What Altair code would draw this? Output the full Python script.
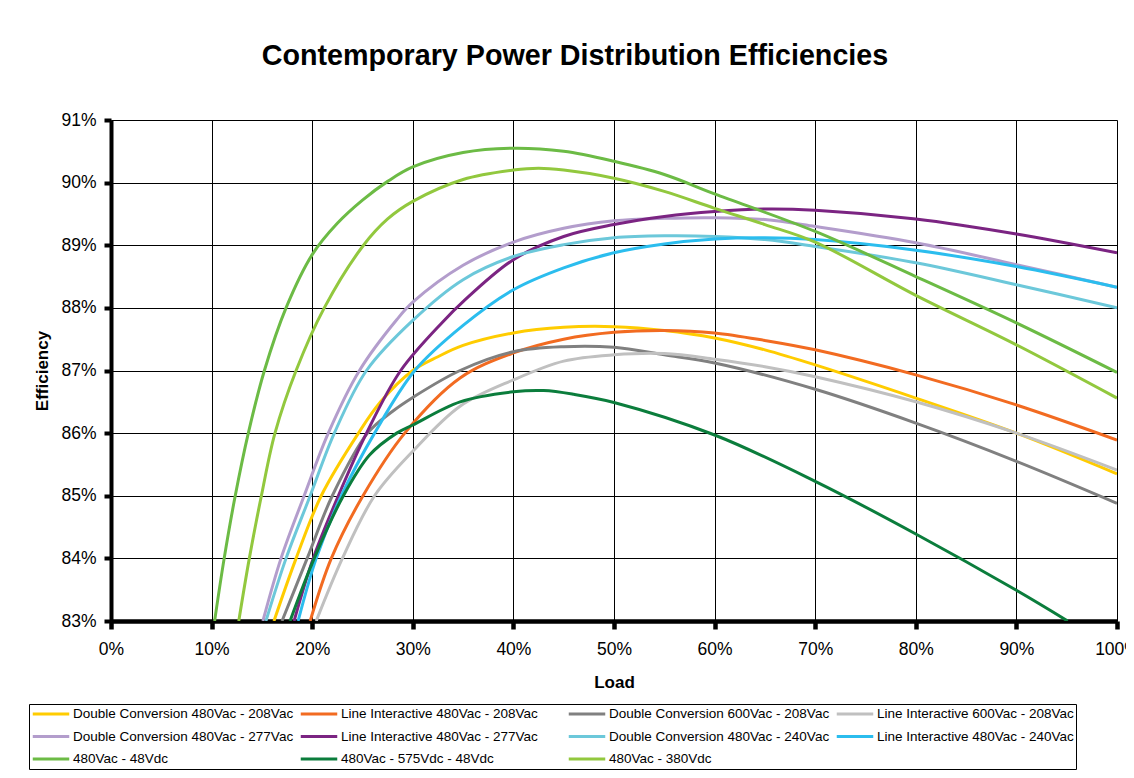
import altair as alt
import pandas as pd

# ---- series (legend order, row by row) ----
series_names = [
    "Double Conversion 480Vac - 208Vac",
    "Line Interactive 480Vac - 208Vac",
    "Double Conversion 600Vac - 208Vac",
    "Line Interactive 600Vac - 208Vac",
    "Double Conversion 480Vac - 277Vac",
    "Line Interactive 480Vac - 277Vac",
    "Double Conversion 480Vac - 240Vac",
    "Line Interactive 480Vac - 240Vac",
    "480Vac - 48Vdc",
    "480Vac - 575Vdc - 48Vdc",
    "480Vac - 380Vdc",
]
series_colors = [
    "#FFCC00", "#F26B21", "#808080", "#C0C0C0",
    "#B39DCC", "#7B2482", "#6CC8DA", "#2BBDEE",
    "#6CBB45", "#0B7D3C", "#92C83E",
]

# ---- values: load (%) and efficiency (%) ----
dc480_208_load = [16.2, 18.4, 20.9, 24.6, 26.8, 30, 32.5, 35, 40, 45, 50, 55, 60, 65, 70, 80, 90, 100]
dc480_208_eff = [83.0, 84.0, 85.0, 86.0, 86.5, 87.0, 87.22, 87.4, 87.6, 87.69, 87.7, 87.64, 87.52, 87.33, 87.09, 86.56, 86.0, 85.35]

li480_208_load = [19.8, 21.9, 25.05, 29.2, 34.7, 40, 45, 50, 55, 60, 65, 70, 80, 90, 100]
li480_208_eff = [83.0, 84.0, 85.0, 86.0, 86.88, 87.28, 87.5, 87.61, 87.64, 87.6, 87.48, 87.33, 86.93, 86.45, 85.89]

dc600_208_load = [17.0, 19.5, 22.0, 25.5, 28, 30, 34.7, 40, 45, 50, 55, 60, 70, 80, 90, 100]
dc600_208_eff = [83.0, 84.0, 85.0, 86.0, 86.35, 86.57, 87.0, 87.3, 87.38, 87.37, 87.25, 87.12, 86.7, 86.16, 85.55, 84.88]

li600_208_load = [20.4, 23.0, 26.2, 30, 34.7, 40, 45, 50, 55, 60, 65, 70, 80, 90, 100]
li600_208_eff = [83.0, 84.0, 85.0, 85.71, 86.43, 86.85, 87.15, 87.25, 87.27, 87.18, 87.06, 86.9, 86.5, 86.0, 85.41]

dc480_277_load = [15.1, 16.9, 19.2, 21.6, 24.7, 28.4, 30, 35, 40, 45, 50, 55, 60, 65, 70, 80, 90, 100]
dc480_277_eff = [83.0, 84.0, 85.0, 86.0, 87.0, 87.81, 88.09, 88.68, 89.05, 89.27, 89.39, 89.43, 89.44, 89.41, 89.3, 89.04, 88.69, 88.33]

li480_277_load = [18.2, 20.1, 22.6, 25.4, 28.8, 33, 35, 40, 45, 50, 55, 60, 65, 70, 80, 90, 100]
li480_277_eff = [83.0, 84.0, 85.0, 86.0, 87.0, 87.78, 88.1, 88.77, 89.14, 89.33, 89.46, 89.54, 89.58, 89.56, 89.42, 89.18, 88.88]

dc480_240_load = [15.4, 17.4, 19.8, 22.2, 25.4, 30, 35, 40, 45, 50, 55, 60, 65, 70, 80, 90, 100]
dc480_240_eff = [83.0, 84.0, 85.0, 86.0, 87.0, 87.8, 88.45, 88.82, 89.01, 89.12, 89.15, 89.14, 89.09, 88.98, 88.72, 88.37, 88.0]

li480_240_load = [18.6, 20.4, 22.9, 26.2, 30.2, 35, 40, 45, 50, 55, 60, 65, 70, 80, 90, 100]
li480_240_eff = [83.0, 84.0, 85.0, 86.0, 87.0, 87.72, 88.29, 88.64, 88.88, 89.02, 89.1, 89.12, 89.09, 88.92, 88.66, 88.33]

v48_load = [10.3, 11.25, 12.35, 13.65, 15.25, 17.4, 20, 22.5, 25, 27.5, 30, 35, 40, 45, 50, 55, 60, 70, 80, 90, 100]
v48_eff = [83.0, 84.0, 85.0, 86.0, 87.0, 88.0, 88.85, 89.35, 89.72, 90.02, 90.25, 90.48, 90.55, 90.5, 90.34, 90.13, 89.82, 89.22, 88.5, 87.76, 86.97]

v575_load = [17.8, 20.2, 23.1, 25.7, 28.4, 30, 34.7, 40, 43, 46, 50, 60, 70, 80, 90, 95.1]
v575_eff = [83.0, 84.0, 85.0, 85.65, 86.0, 86.13, 86.5, 86.66, 86.68, 86.62, 86.49, 85.97, 85.23, 84.39, 83.49, 83.0]

v380_load = [12.7, 13.75, 14.95, 16.3, 18.4, 21.2, 25.1, 27.5, 30, 35, 40, 42.5, 45, 50, 55, 60, 65, 70, 80, 90, 100]
v380_eff = [83.0, 84.0, 85.0, 86.0, 87.0, 88.0, 89.0, 89.42, 89.7, 90.05, 90.2, 90.23, 90.2, 90.07, 89.86, 89.59, 89.33, 89.05, 88.2, 87.41, 86.56]

x_ticks = [0, 10, 20, 30, 40, 50, 60, 70, 80, 90, 100]
y_ticks = [83, 84, 85, 86, 87, 88, 89, 90, 91]

series_data = [
    (dc480_208_load, dc480_208_eff),
    (li480_208_load, li480_208_eff),
    (dc600_208_load, dc600_208_eff),
    (li600_208_load, li600_208_eff),
    (dc480_277_load, dc480_277_eff),
    (li480_277_load, li480_277_eff),
    (dc480_240_load, dc480_240_eff),
    (li480_240_load, li480_240_eff),
    (v48_load, v48_eff),
    (v575_load, v575_eff),
    (v380_load, v380_eff),
]

rows = []
for name, (loads, effs) in zip(series_names, series_data):
    for l, e in zip(loads, effs):
        rows.append({"series": name, "load": l, "eff": e})
df = pd.DataFrame(rows)

# Vega fills a multi-column legend column by column; reorder so it reads row by row
n_cols, n_rows = 4, 3
color_of = dict(zip(series_names, series_colors))
legend_order = [series_names[r * n_cols + c] for c in range(n_cols) for r in range(n_rows)
                if r * n_cols + c < len(series_names)]
legend_colors = [color_of[n] for n in legend_order]

FONT = "Liberation Sans"

chart = alt.Chart(df).mark_line(
    interpolate="catmull-rom", strokeWidth=3, clip=True
).encode(
    x=alt.X(
        "load:Q",
        scale=alt.Scale(domain=[0, 100], nice=False),
        axis=alt.Axis(
            values=x_ticks, title="Load", labelExpr="datum.value + '%'",
            labelFont=FONT, labelFontSize=17.5, labelColor="black",
            labelPadding=11, labelFlush=False, labelOverlap=False,
            tickSize=8, tickWidth=4.5, tickColor="black",
            domainColor="black", domainWidth=4.5,
            grid=True, gridColor="black", gridWidth=1, gridOpacity=1,
            titleFont=FONT, titleFontSize=17, titleFontWeight="bold", titleColor="black",
            titleX=503, titleY=61, titleBaseline="middle", titleAlign="center",
        ),
    ),
    y=alt.Y(
        "eff:Q",
        scale=alt.Scale(domain=[83, 91], nice=False, zero=False),
        axis=alt.Axis(
            values=y_ticks, title="Efficiency", labelExpr="datum.value + '%'",
            labelFont=FONT, labelFontSize=17.5, labelColor="black",
            labelPadding=8, labelFlush=False, labelOverlap=False,
            tickSize=7, tickWidth=4, tickColor="black",
            domainColor="black", domainWidth=4,
            grid=True, gridColor="black", gridWidth=1, gridOpacity=1,
            titleFont=FONT, titleFontSize=17, titleFontWeight="bold", titleColor="black",
            titleX=-69, titleY=250.5, titleBaseline="middle", titleAlign="center",
        ),
    ),
    color=alt.Color(
        "series:N",
        scale=alt.Scale(domain=legend_order, range=legend_colors),
        legend=alt.Legend(
            title=None, orient="none", legendX=-82, legendY=584,
            columns=n_cols, gridAlign="all", columnPadding=5, rowPadding=6.5,
            symbolType="stroke", symbolSize=1332, symbolStrokeWidth=3,
            labelFont=FONT, labelFontSize=13.5, labelColor="black",
            labelOffset=2, labelLimit=500, clipHeight=16,
            padding=2, strokeColor="black", fillColor="white",
        ),
    ),
).properties(
    width=1006,
    height=501,
    title=alt.Title(
        "Contemporary Power Distribution Efficiencies",
        font=FONT, fontSize=28.7, fontWeight="bold", color="black",
        anchor="middle", frame="group", dx=-39, offset=40,
    ),
    autosize=alt.AutoSizeParams(type="none"),
    padding={"left": 103, "top": 112, "right": 9, "bottom": 151},
).configure_view(stroke=None).configure(background="white")

chart.save("out.html", embed_options={"renderer": "svg", "actions": False})
